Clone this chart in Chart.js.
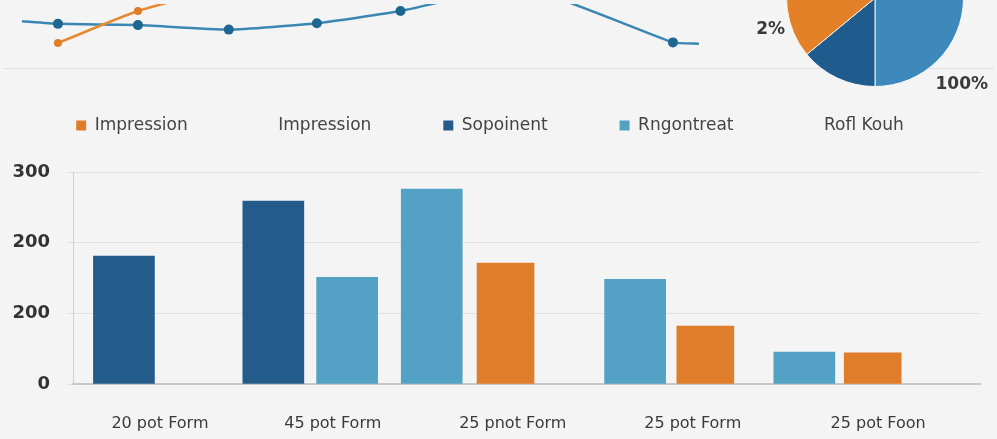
<!DOCTYPE html>
<html lang="en">
<head>
    <meta charset="UTF-8">
    <script src="https://cdn.jsdelivr.net/npm/chart.js"></script>
    <style>
        body {
            margin: 0;
            background: #f4f4f4;
            font-family: "DejaVu Sans", sans-serif;
        }

        #wrap {
            position: relative;
            width: 997px;
            height: 439px;
            overflow: hidden;
        }

        canvas {
            position: absolute;
        }

        #lineChart { left: 0; top: 0; }
        #barChart { left: 0; top: 100px; }
        #pieChart { left: 740px; top: -91px; }
    </style>
    <title>Impression chart</title>
</head>
<body>
    <div id="wrap">
        <canvas id="lineChart" width="997" height="72"></canvas>
        <canvas id="barChart" width="997" height="339"></canvas>
        <canvas id="pieChart" width="257" height="195"></canvas>
    </div>
    <script>
        // top trend lines (partly cut off by the top edge)
        const trendBlueX = [0.2, 0.6, 1.49, 2.5, 3.48, 4.41, 5.76, 7.44, 7.73];
        const trendBlue = [73, 69, 67, 60, 70, 89, 126, 40, 38];
        const trendOrangeX = [0.6, 1.49, 2.52];
        const trendOrange = [39, 89, 128];

        // pie (top right, mostly off screen)
        const pieLabels = ["Rngontreat", "Sopoinent", "Impression"];
        const pieValues = [50, 14, 36];
        const pieTexts = ["2%", "100%"];

        // bar chart
        const categories = ["20 pot Form", "45 pot Form", "25 pnot Form", "25 pot Form", "25 pot Foon"];
        const categoryPos = [0, 0.96, 1.96, 2.96, 3.99];
        const yTickLabels = ["0", "200", "200", "300"];
        const legendLabels = ["Impression", "Impression", "Sopoinent", "Rngontreat", "Rofl Kouh"];

        const sopoinentX = [-0.2, 0.63];
        const sopoinent = [181, 259];
        const rngontreatX = [1.04, 1.51, 2.64, 3.58];
        const rngontreat = [151, 276, 148, 45];
        const impressionX = [1.92, 3.03, 3.96];
        const impression = [171, 82, 44];

        const colors = {
            dark: "#235b8b",
            light: "#53a1c4",
            orange: "#e07d2a",
            pieDark: "#1f5b8c",
            pieLight: "#3d89bc",
            pieOrange: "#e38028"
        };

        Chart.defaults.font.family = '"DejaVu Sans", sans-serif';

        function points(xs, ys) {
            return xs.map((x, i) => ({ x: x, y: ys[i] }));
        }

        // ---- line chart ----
        new Chart(document.getElementById("lineChart"), {
            type: "line",
            data: {
                datasets: [{
                    data: points(trendOrangeX, trendOrange),
                    borderColor: "#e8892f",
                    borderWidth: 2.5,
                    pointRadius: 4,
                    pointBorderWidth: 0,
                    pointBackgroundColor: "#e07d26",
                    tension: 0.2
                }, {
                    data: points(trendBlueX, trendBlue),
                    borderColor: "#3b87b3",
                    borderWidth: 2.5,
                    pointRadius: trendBlueX.map((_, i) => (i === 0 || i === trendBlueX.length - 1) ? 0 : 5),
                    pointBorderWidth: 0,
                    pointBackgroundColor: "#1d6690",
                    tension: 0.15
                }]
            },
            options: {
                responsive: false,
                animation: false,
                layout: { padding: 0 },
                plugins: { legend: { display: false }, tooltip: { enabled: false } },
                scales: {
                    x: {
                        type: "linear", min: 0, max: 11,
                        ticks: { display: false },
                        grid: { display: false, drawTicks: false },
                        border: { color: "#dedede" },
                        afterFit: (scale) => { scale.height = 4; }
                    },
                    y: {
                        min: 0, max: 100, display: false,
                        afterFit: (scale) => { scale.width = 0; }
                    }
                }
            }
        });

        // ---- pie chart ----
        const pieText = {
            id: "pieText",
            afterDraw(chart) {
                const arc = chart.getDatasetMeta(0).data[0];
                const r = arc.outerRadius;
                const ctx = chart.ctx;
                ctx.save();
                ctx.font = '600 17px "DejaVu Sans", sans-serif';
                ctx.fillStyle = "#3a3a3a";
                ctx.textAlign = "center";
                ctx.textBaseline = "middle";
                ctx.fillText(pieTexts[0], arc.x - 1.18 * r, arc.y + 0.36 * r);
                ctx.fillText(pieTexts[1], arc.x + 0.98 * r, arc.y + 0.98 * r);
                ctx.restore();
            }
        };

        new Chart(document.getElementById("pieChart"), {
            type: "pie",
            data: {
                labels: pieLabels,
                datasets: [{
                    data: pieValues,
                    backgroundColor: [colors.pieLight, colors.pieDark, colors.pieOrange],
                    borderWidth: 1,
                    borderColor: "#f4f4f4"
                }]
            },
            options: {
                responsive: false,
                animation: false,
                layout: { padding: { left: 46, right: 33, top: 0, bottom: 17 } },
                plugins: { legend: { display: false }, tooltip: { enabled: false } }
            },
            plugins: [pieText]
        });

        // ---- bar chart ----
        const legendPad = 72;
        const legendColors = [colors.orange, null, colors.dark, colors.light, null];

        const legendSpacer = {
            id: "legendSpacer",
            beforeInit(chart) {
                const fit = chart.legend.fit;
                chart.legend.fit = function () {
                    this.maxWidth = 2000;
                    fit.call(this);
                    this.width = chart.width;
                    this.height = 72 - (17 - legendPad);
                };
            }
        };

        new Chart(document.getElementById("barChart"), {
            type: "bar",
            data: {
                datasets: [{
                    label: "Sopoinent",
                    data: points(sopoinentX, sopoinent),
                    backgroundColor: colors.dark,
                    barThickness: 61
                }, {
                    label: "Rngontreat",
                    data: points(rngontreatX, rngontreat),
                    backgroundColor: colors.light,
                    barThickness: 61
                }, {
                    label: "Impression",
                    data: points(impressionX, impression),
                    backgroundColor: colors.orange,
                    barThickness: 57
                }]
            },
            options: {
                responsive: false,
                animation: false,
                layout: { padding: { top: 17 - legendPad, right: 17, left: 0, bottom: 0 } },
                datasets: { bar: { grouped: false } },
                plugins: {
                    tooltip: { enabled: false },
                    legend: {
                        labels: {
                            boxWidth: 10,
                            boxHeight: 10,
                            padding: legendPad,
                            color: "#444",
                            font: { size: 17 },
                            generateLabels: () => legendLabels.map((t, i) => ({
                                text: t,
                                fillStyle: legendColors[i] || "rgba(0,0,0,0)",
                                strokeStyle: "rgba(0,0,0,0)",
                                lineWidth: 0,
                                fontColor: "#444",
                                hidden: false
                            }))
                        }
                    }
                },
                scales: {
                    x: {
                        type: "linear",
                        min: -0.483,
                        max: 4.556,
                        offset: false,
                        grid: { display: false },
                        border: { color: "#c8c8c8", width: 2 },
                        afterBuildTicks: (scale) => {
                            scale.ticks = categoryPos.map(v => ({ value: v }));
                        },
                        afterFit: (scale) => { scale.height = 55; },
                        ticks: {
                            autoSkip: false,
                            maxRotation: 0,
                            padding: 22,
                            color: "#3a3a3a",
                            font: { size: 16 },
                            callback: (v, i) => categories[i]
                        }
                    },
                    y: {
                        min: 0,
                        max: 300,
                        afterFit: (scale) => { scale.width = 73; },
                        grid: { color: "#e0e0e0", tickLength: 6 },
                        border: { color: "#d0d0d0" },
                        ticks: {
                            stepSize: 100,
                            padding: 17,
                            color: "#333",
                            font: { size: 18, weight: "600" },
                            callback: (v, i) => yTickLabels[i]
                        }
                    }
                }
            },
            plugins: [legendSpacer]
        });
    </script>
</body>
</html>
